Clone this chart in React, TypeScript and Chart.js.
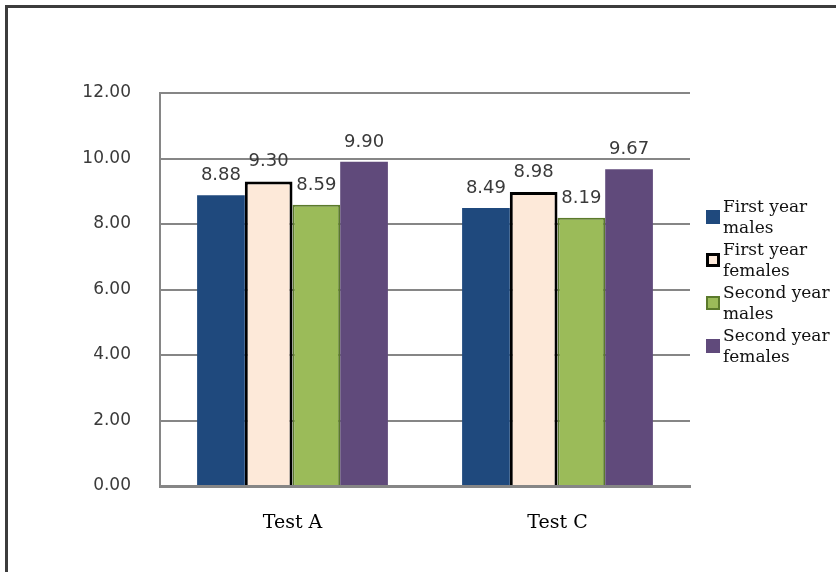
import React, { useEffect, useRef } from "react";
import { Chart, registerables } from "chart.js";

Chart.register(...registerables);

const categories = ["Test A", "Test C"];
const firstYearMales = [8.88, 8.49];
const firstYearFemales = [9.3, 8.98];
const secondYearMales = [8.59, 8.19];
const secondYearFemales = [9.9, 9.67];
const legendLines = [
  ["First year", "males"],
  ["First year", "females"],
  ["Second year", "males"],
  ["Second year", "females"],
];
const yMin = 0;
const yMax = 12;
const yStep = 2;

const fills = ["#1f497d", "#fde9d9", "#9bbb59", "#604a7b"];
const borders = ["#1f497d", "#000000", "#5b7a2c", "#604a7b"];
const borderWidths = [0, 3, 2, 0];

const labelPlugin = {
  id: "valueLabels",
  afterDatasetsDraw(chart: any) {
    const ctx = chart.ctx;
    ctx.save();
    ctx.font = "18px 'DejaVu Sans'";
    ctx.fillStyle = "#3a3a3a";
    ctx.textAlign = "center";
    ctx.textBaseline = "alphabetic";
    chart.data.datasets.forEach((ds: any, i: number) => {
      const meta = chart.getDatasetMeta(i);
      meta.data.forEach((bar: any, j: number) => {
        ctx.fillText(Number(ds.data[j]).toFixed(2), bar.x, bar.y - 15);
      });
    });
    ctx.restore();
  },
};

const legendPlugin = {
  id: "sideLegend",
  afterDraw(chart: any) {
    const ctx = chart.ctx;
    const area = chart.chartArea;
    ctx.save();
    ctx.font = "17px 'DejaVu Serif'";
    ctx.textAlign = "left";
    ctx.textBaseline = "alphabetic";
    legendLines.forEach((lines, i) => {
      const base = area.top + 119 + i * 43;
      const sqX = area.right + 16;
      const sqY = base - 2;
      ctx.fillStyle = fills[i];
      ctx.fillRect(sqX, sqY, 14, 14);
      if (borderWidths[i] > 0) {
        ctx.strokeStyle = borders[i];
        ctx.lineWidth = borderWidths[i];
        const h = borderWidths[i] / 2;
        ctx.strokeRect(sqX + h, sqY + h, 14 - borderWidths[i], 14 - borderWidths[i]);
      }
      ctx.fillStyle = "#111111";
      lines.forEach((t, k) => {
        ctx.fillText(t, area.right + 33, base + k * 21);
      });
    });
    ctx.restore();
  },
};

export default function App() {
  const ref = useRef<HTMLCanvasElement | null>(null);
  useEffect(() => {
    if (!ref.current) return;
    const series = [firstYearMales, firstYearFemales, secondYearMales, secondYearFemales];
    const chart = new Chart(ref.current, {
      type: "bar",
      data: {
        labels: categories,
        datasets: series.map((d, i) => ({
          label: legendLines[i].join(" "),
          data: d,
          backgroundColor: fills[i],
          borderColor: borders[i],
          borderWidth: borderWidths[i],
          borderSkipped: "start",
          barPercentage: 1,
          categoryPercentage: 0.72,
        })),
      },
      options: {
        responsive: false,
        animation: false,
        devicePixelRatio: 1,
        layout: { padding: { top: 93, right: 146, bottom: 0, left: 0 } },
        plugins: {
          legend: { display: false },
          tooltip: { enabled: false },
          title: { display: false },
        },
        scales: {
          x: {
            grid: { display: false, drawTicks: false },
            border: { display: true, color: "#868686", width: 3 },
            ticks: {
              font: { family: "'DejaVu Serif'", size: 19 },
              color: "#000000",
              padding: 26,
            },
            afterFit: (s: any) => {
              s.height = 86;
            },
          },
          y: {
            min: yMin,
            max: yMax,
            grid: { color: "#868686", lineWidth: 2, drawTicks: false },
            border: { display: true, color: "#868686", width: 2 },
            ticks: {
              stepSize: yStep,
              font: { family: "'DejaVu Sans'", size: 17 },
              color: "#3a3a3a",
              padding: 29,
              callback: (v: any) => Number(v).toFixed(2),
            },
            afterFit: (s: any) => {
              s.width = 160;
            },
          },
        },
      },
      plugins: [labelPlugin, legendPlugin],
    });
    return () => chart.destroy();
  }, []);

  return (
    <div style={{ position: "absolute", left: 0, top: 0, width: 836, height: 572, overflow: "hidden", background: "#ffffff" }}>
      <canvas ref={ref} width={836} height={572} style={{ display: "block", position: "absolute", left: 0, top: 0 }} />
      <div
        style={{
          position: "absolute",
          left: 5,
          top: 5,
          width: 831,
          height: 567,
          boxSizing: "border-box",
          borderLeft: "3px solid #3c3c3c",
          borderTop: "3px solid #3c3c3c",
          pointerEvents: "none",
        }}
      />
    </div>
  );
}
